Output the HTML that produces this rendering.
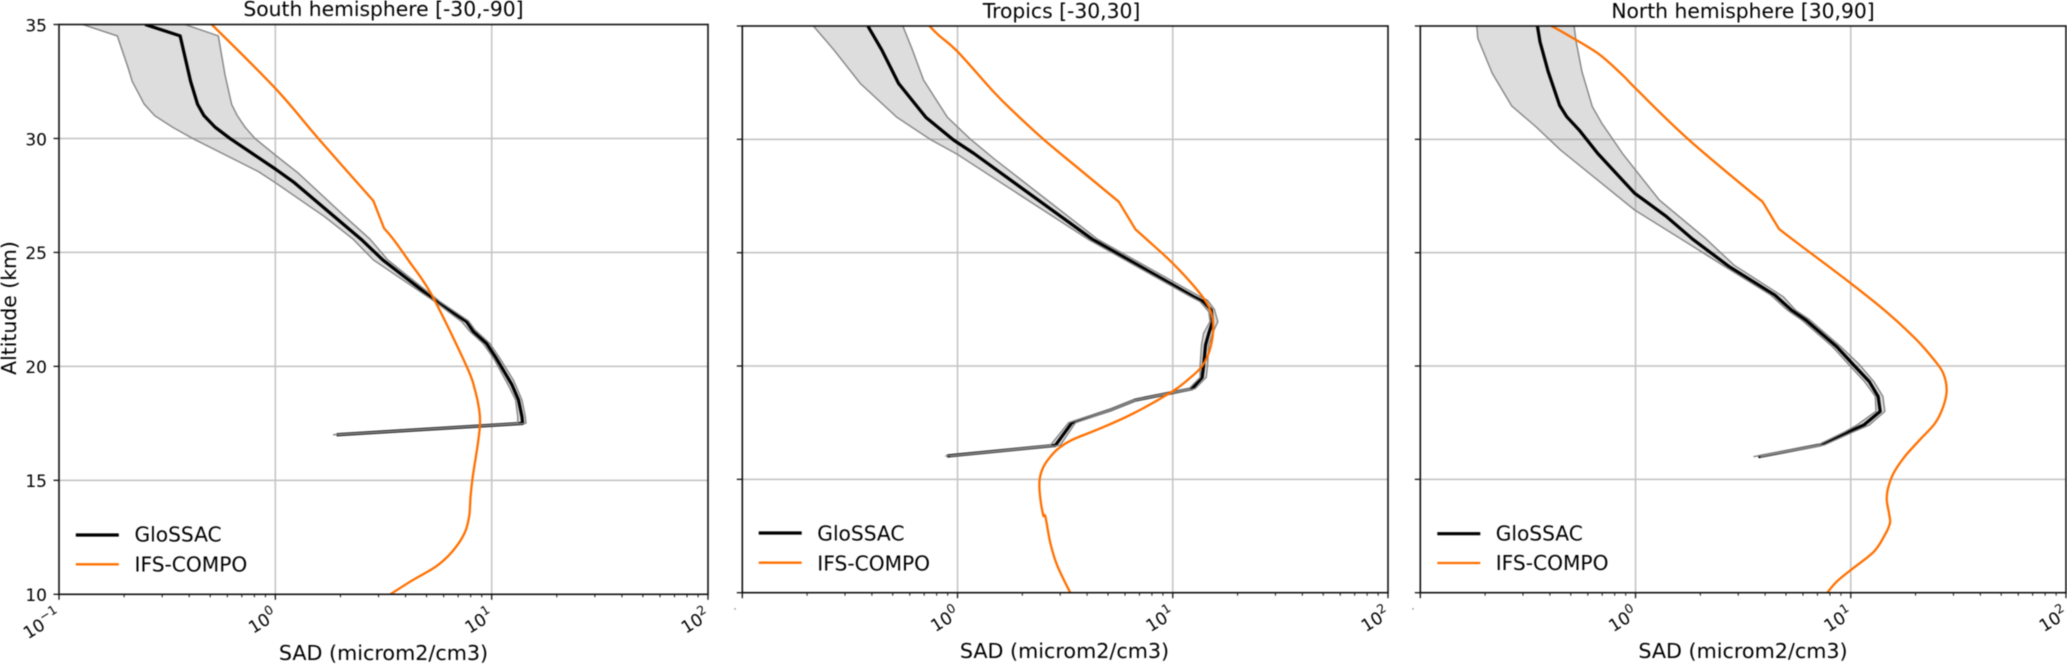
<!DOCTYPE html>
<html lang="en">
<head>
<meta charset="utf-8">
<title>SAD profiles: GloSSAC vs IFS-COMPO</title>
<style>
  html, body { margin: 0; padding: 0; background: #fff; }
  body { width: 2067px; height: 664px; overflow: hidden; }
  #chart { display: block; filter: blur(0.45px); }
  #chart text { font-family: "DejaVu Sans", "Liberation Sans", sans-serif; fill: #000; }
</style>
</head>
<body>
<svg id="chart" xmlns="http://www.w3.org/2000/svg" width="2067" height="664" viewBox="0 0 2067 664"></svg>
<script>
/* ---- shared axis data ---- */
const yTicks = [10, 15, 20, 25, 30, 35];
const xDecades = [-1, 0, 1, 2];
const xMinorFactors = [2, 3, 4, 5, 6, 7, 8, 9];
const seriesNames = ['GloSSAC', 'IFS-COMPO'];
/* altitude range where the model profile has real corners */
const modelCornerRange = [26, 27.3];

/* ---- South hemisphere ---- */
const southMeanAlt = [35, 34.5, 32.5, 31.5, 31, 30.5, 30, 28.66, 28.1, 25.55, 24.67, 22.84, 21.96, 21.53, 21, 20.36, 19.2, 18.53, 17.8, 17.5, 17];
const southMeanSad = [0.25, 0.363, 0.406, 0.437, 0.468, 0.526, 0.617, 1.0, 1.21, 2.51, 3.14, 5.57, 7.66, 8.22, 9.48, 10.5, 12.4, 13.3, 13.8, 13.9, 1.92];
const southLowAlt = [35, 34.5, 33.08, 32.5, 31.5, 31, 30.5, 30, 28.55, 28.06, 26.57, 25.58, 24.67, 22.84, 21.96, 21.53, 21, 20.36, 19.2, 18.53, 17.8, 17.5, 17];
const southLowSad = [0.1286, 0.186, 0.209, 0.218, 0.248, 0.277, 0.334, 0.415, 0.834, 1.0, 1.69, 2.29, 2.84, 5.47, 7.27, 7.94, 9.14, 10.2, 11.9, 12.9, 13.2, 13.2, 1.85];
const southHighAlt = [35, 34.5, 32.8, 31.5, 31, 30.5, 30, 29.27, 28.47, 26.5, 25.58, 24.67, 22.84, 22, 21.6, 21, 20.36, 19.4, 18.53, 17.8, 17.5, 17];
const southHighSad = [0.382, 0.545, 0.585, 0.628, 0.667, 0.724, 0.805, 1.0, 1.28, 2.14, 2.74, 3.31, 5.77, 7.8, 8.37, 9.82, 10.9, 12.6, 13.8, 14.3, 14.4, 1.95];
const southModelAlt = [35, 32.2, 30, 27.26, 26.06, 25.58, 24.67, 23.14, 20, 18.97, 18.09, 17.43, 16.5, 15.17, 14.3, 13.42, 12.68, 11.88, 11.22, 10.63, 10];
const southModelSad = [0.508, 1.0, 1.58, 2.84, 3.18, 3.51, 4.11, 5.28, 7.66, 8.37, 8.76, 8.83, 8.6, 8.18, 7.99, 7.87, 7.49, 6.58, 5.53, 4.33, 3.4];

/* ---- Tropics ---- */
const tropicsMeanAlt = [35, 33.94, 32.47, 30.97, 29.97, 29.38, 25.6, 23.06, 22.84, 22.47, 21.96, 21.44, 20.93, 20, 19.5, 19, 18.5, 18.06, 17.5, 16.5, 16.03];
const tropicsMeanSad = [0.383, 0.445, 0.532, 0.713, 0.958, 1.19, 4.22, 12.5, 13.9, 15.1, 15.3, 14.7, 14.2, 13.9, 13.7, 12.3, 6.71, 5.13, 3.4, 2.85, 0.895];
const tropicsLowAlt = [35, 33.97, 32.47, 30.97, 30, 29.35, 25.6, 23.06, 22.84, 22.4, 21.96, 21.44, 20.93, 20, 19.5, 19, 18.5, 18.06, 17.5, 16.5, 16.03];
const tropicsLowSad = [0.214, 0.265, 0.353, 0.523, 0.746, 0.993, 4.03, 12.1, 13.4, 14.7, 14.9, 13.9, 13.6, 13.4, 13.4, 11.9, 6.59, 5.04, 3.28, 2.7, 0.877];
const tropicsHighAlt = [35, 34, 32.62, 30.97, 30, 29.16, 25.6, 23.13, 22.9, 22.5, 21.96, 21.44, 20.93, 20, 19.5, 19, 18.5, 18.06, 17.5, 16.5, 16.03];
const tropicsHighSad = [0.557, 0.614, 0.695, 0.898, 1.15, 1.47, 4.46, 13.0, 14.5, 15.6, 16.2, 15.3, 14.7, 14.5, 14.3, 12.7, 6.83, 5.23, 3.53, 3.0, 0.925];
const tropicsModelAlt = [35, 34.6, 33.87, 32.1, 31.22, 30, 28.65, 27.25, 26.03, 25.56, 24.53, 23.35, 22.62, 21.88, 20.85, 20, 19.38, 18.87, 17.92, 17.25, 16.74, 16.37, 16, 15.56, 15.03, 14.39, 13.43, 13.35, 12.18, 11.22, 10];
const tropicsModelSad = [0.741, 0.816, 1.0, 1.47, 1.82, 2.51, 3.72, 5.61, 6.71, 7.62, 10, 13.0, 14.7, 15.4, 15.0, 13.7, 11.7, 9.93, 6.59, 4.61, 3.4, 2.95, 2.7, 2.51, 2.41, 2.41, 2.5, 2.56, 2.7, 2.9, 3.34];

/* ---- North hemisphere ---- */
const northMeanAlt = [35, 34.3, 32.98, 31.5, 31, 30.41, 29.38, 27.62, 26.6, 25.6, 24.38, 23.13, 22.47, 22.03, 20.85, 20.05, 19.31, 18.66, 18, 17.4, 17.1, 16.52, 16];
const northMeanSad = [0.35, 0.36, 0.393, 0.444, 0.479, 0.547, 0.667, 0.991, 1.39, 1.84, 2.73, 4.44, 5.3, 6.18, 8.61, 10.3, 12.2, 13.4, 13.7, 11.5, 9.82, 7.21, 3.72];
const northLowAlt = [35, 34.46, 32.91, 31.47, 30.56, 29.53, 26.88, 25.6, 24.38, 23.13, 22.47, 22.03, 20.85, 20.05, 19.31, 18.66, 18, 17.4, 17.1, 16.52, 16];
const northLowSad = [0.183, 0.185, 0.216, 0.266, 0.344, 0.448, 0.991, 1.63, 2.61, 4.25, 5.07, 5.92, 8.23, 9.82, 11.6, 13.0, 13.1, 10.7, 9.4, 7.06, 3.53];
const northHighAlt = [35, 34.3, 32.98, 31.44, 30.71, 30.19, 29.38, 27.32, 25.6, 24.46, 23.06, 22.47, 22.03, 20.85, 20.05, 19.31, 18.66, 18, 17.4, 17.1, 16.52, 16];
const northHighSad = [0.518, 0.53, 0.564, 0.63, 0.697, 0.76, 0.869, 1.29, 2.13, 2.86, 4.85, 5.53, 6.46, 8.99, 11.0, 12.8, 14.1, 14.4, 12.2, 10.3, 7.54, 3.8];
const northModelAlt = [35, 34.68, 33.8, 32.84, 32.25, 30, 27.25, 26.05, 25.56, 23.65, 22.4, 21.22, 20.27, 19.68, 18.94, 18.21, 17.47, 16.74, 16, 15.27, 14.61, 14.09, 13.43, 13.06, 12.55, 11.81, 11, 10.49, 10];
const northModelSad = [0.406, 0.468, 0.667, 0.869, 1.0, 1.76, 3.89, 4.64, 5.41, 10, 14.6, 19.9, 24.4, 26.9, 27.9, 26.9, 24.6, 20.9, 17.8, 15.8, 14.9, 14.7, 15.1, 15.2, 14.4, 12.8, 10, 8.61, 7.78];

/* ---- layout of each panel ---- */
const panels = [
  { key: 'south', title: 'South hemisphere [-30,-90]', left: 59, right: 708, top: 24.5, bottom: 594.3,
    titleX: 383.5, titleY: 16, labelX: 383.5, labelY: 660, lineX: 75.8, textX: 134.5, leg1: 535, leg2: 564.3, base1: 541.7, base2: 571.4, yLabels: true, firstDecadeLabel: true,
    meanAlt: southMeanAlt, meanSad: southMeanSad, lowAlt: southLowAlt, lowSad: southLowSad, highAlt: southHighAlt, highSad: southHighSad, modelAlt: southModelAlt, modelSad: southModelSad },
  { key: 'tropics', title: 'Tropics [-30,30]', left: 742.3, right: 1388, top: 26, bottom: 592.7,
    titleX: 1061.5, titleY: 18, labelX: 1064.5, labelY: 658, lineX: 758.7, textX: 817.3, leg1: 533, leg2: 562.7, base1: 540.7, base2: 570.3, yLabels: false, firstDecadeLabel: false,
    meanAlt: tropicsMeanAlt, meanSad: tropicsMeanSad, lowAlt: tropicsLowAlt, lowSad: tropicsLowSad, highAlt: tropicsHighAlt, highSad: tropicsHighSad, modelAlt: tropicsModelAlt, modelSad: tropicsModelSad },
  { key: 'north', title: 'North hemisphere [30,90]', left: 1420.3, right: 2066, top: 26, bottom: 592.7,
    titleX: 1743, titleY: 18, labelX: 1743, labelY: 658, lineX: 1437.3, textX: 1495.7, leg1: 533.7, leg2: 563, base1: 540.7, base2: 570, yLabels: false, firstDecadeLabel: false,
    meanAlt: northMeanAlt, meanSad: northMeanSad, lowAlt: northLowAlt, lowSad: northLowSad, highAlt: northHighAlt, highSad: northHighSad, modelAlt: northModelAlt, modelSad: northModelSad }
];

const NS = 'http://www.w3.org/2000/svg';
const svg = document.getElementById('chart');

function make(tag, attrs, parent) {
  const node = document.createElementNS(NS, tag);
  for (const k in attrs) node.setAttribute(k, attrs[k]);
  parent.appendChild(node);
  return node;
}
function xScale(p, v) {
  const lo = xDecades[0], hi = xDecades[xDecades.length - 1];
  return p.left + (Math.log10(v) - lo) / (hi - lo) * (p.right - p.left);
}
function yScale(p, alt) {
  const lo = yTicks[0], hi = yTicks[yTicks.length - 1];
  return p.bottom - (alt - lo) / (hi - lo) * (p.bottom - p.top);
}
function linePath(p, alts, sads) {
  return alts.map(function (a, i) {
    return (i ? 'L' : 'M') + xScale(p, sads[i]).toFixed(2) + ' ' + yScale(p, a).toFixed(2);
  }).join(' ');
}
/* Smooth curve through the data, with corners inside modelCornerRange. */
function smoothPath(p, alts, sads) {
  const pts = alts.map(function (a, i) { return [xScale(p, sads[i]), yScale(p, a)]; });
  function tangent(i) {
    if (i === 0 || i === pts.length - 1) return [0, 0];
    if (alts[i] >= modelCornerRange[0] && alts[i] <= modelCornerRange[1]) return [0, 0];
    return [(pts[i + 1][0] - pts[i - 1][0]) / 6, (pts[i + 1][1] - pts[i - 1][1]) / 6];
  }
  let d = 'M' + pts[0][0].toFixed(2) + ' ' + pts[0][1].toFixed(2);
  for (let i = 0; i < pts.length - 1; i++) {
    const t1 = tangent(i), t2 = tangent(i + 1);
    d += ' C' + (pts[i][0] + t1[0]).toFixed(2) + ' ' + (pts[i][1] + t1[1]).toFixed(2) + ' ' +
         (pts[i + 1][0] - t2[0]).toFixed(2) + ' ' + (pts[i + 1][1] - t2[1]).toFixed(2) + ' ' +
         pts[i + 1][0].toFixed(2) + ' ' + pts[i + 1][1].toFixed(2);
  }
  return d;
}
function bandPath(p) {
  const lowPart = linePath(p, p.lowAlt, p.lowSad);
  const up = p.highAlt.map(function (a, i) {
    return 'L' + xScale(p, p.highSad[i]).toFixed(2) + ' ' + yScale(p, a).toFixed(2);
  }).reverse().join(' ');
  return lowPart + ' ' + up + ' Z';
}

panels.forEach(function (p) {
  const panel = make('g', {}, svg);
  
  

  const clip = make('clipPath', { id: 'clip-' + p.key }, panel);
  make('rect', { x: p.left, y: p.top, width: p.right - p.left, height: p.bottom - p.top }, clip);

  /* grid */
  xDecades.slice(1, -1).forEach(function (d) {
    const gx = make('line', { x1: xScale(p, Math.pow(10, d)), x2: xScale(p, Math.pow(10, d)), y1: p.top, y2: p.bottom, stroke: '#c2c2c2', 'stroke-width': 1.5 }, panel);
    
    
  });
  yTicks.slice(1, -1).forEach(function (t) {
    const gy = make('line', { x1: p.left, x2: p.right, y1: yScale(p, t), y2: yScale(p, t), stroke: '#c2c2c2', 'stroke-width': 1.5 }, panel);
    
    
  });

  /* series */
  const plot = make('g', { 'clip-path': 'url(#clip-' + p.key + ')' }, panel);
  
  

  const band = make('path', { d: bandPath(p), fill: '#808080', 'fill-opacity': 0.27, stroke: 'none' }, plot);
  
  

  const mean = make('path', { d: linePath(p, p.meanAlt, p.meanSad), fill: 'none', stroke: '#000', 'stroke-width': 3.2, 'stroke-linejoin': 'round' }, plot);
  
  

  const low = make('path', { d: linePath(p, p.lowAlt, p.lowSad), fill: 'none', stroke: '#858585', 'stroke-width': 1.4, 'stroke-linejoin': 'round' }, plot);
  
  

  const high = make('path', { d: linePath(p, p.highAlt, p.highSad), fill: 'none', stroke: '#858585', 'stroke-width': 1.4, 'stroke-linejoin': 'round' }, plot);
  
  

  const model = make('path', { d: smoothPath(p, p.modelAlt, p.modelSad), fill: 'none', stroke: '#ff7000', 'stroke-width': 2.3, 'stroke-linejoin': 'round' }, plot);
  
  

  /* spines */
  const frame = make('rect', { x: p.left, y: p.top, width: p.right - p.left, height: p.bottom - p.top, fill: 'none', stroke: '#111', 'stroke-width': 1.6 }, panel);
  
  

  /* y ticks */
  yTicks.forEach(function (t) {
    const tk = make('line', { x1: p.left - 5.5, x2: p.left, y1: yScale(p, t), y2: yScale(p, t), stroke: '#111', 'stroke-width': 1.3 }, panel);
    
    
    if (p.yLabels) {
      const lb = make('text', { x: p.left - 12, y: yScale(p, t) + 6.8, 'text-anchor': 'end', 'font-size': 17 }, panel);
      lb.textContent = String(t);
      
      
    }
  });

  /* x ticks */
  xDecades.forEach(function (d, i) {
    const x = xScale(p, Math.pow(10, d));
    const tk = make('line', { x1: x, x2: x, y1: p.bottom, y2: p.bottom + 5.5, stroke: '#111', 'stroke-width': 1.3 }, panel);
    
    
    if (i < xDecades.length - 1) {
      xMinorFactors.forEach(function (f) {
        const mx = xScale(p, f * Math.pow(10, d));
        const mt = make('line', { x1: mx, x2: mx, y1: p.bottom, y2: p.bottom + 3, stroke: '#111', 'stroke-width': 1 }, panel);
        
        
      });
    }
    if (i > 0 || p.firstDecadeLabel) {
      const lb = make('text', { transform: 'translate(' + (x + 3) + ' ' + (p.bottom + 24) + ') rotate(-32)', 'text-anchor': 'end', 'font-size': 17 }, panel);
      
      
      lb.appendChild(document.createTextNode('10'));
      const sup = make('tspan', { 'font-size': 12.5, dy: -7.5 }, lb);
      sup.textContent = String(d).replace('-', '\u2212');
    } else {
      const frag = make('rect', { x: p.left - 8, y: p.bottom + 15.5, width: 1.4, height: 1.4, fill: '#888' }, panel);
      
      
    }
  });

  /* titles */
  const title = make('text', { x: p.titleX, y: p.titleY, 'text-anchor': 'middle', 'font-size': 20.3 }, panel);
  title.textContent = p.title;
  
  

  const xlab = make('text', { x: p.labelX, y: p.labelY, 'text-anchor': 'middle', 'font-size': 20.7 }, panel);
  xlab.textContent = 'SAD (microm2/cm3)';
  
  

  if (p.yLabels) {
    const ylab = make('text', { transform: 'translate(16 308) rotate(-90)', 'text-anchor': 'middle', 'font-size': 20.4 }, panel);
    ylab.textContent = 'Altitude (km)';
    
    
  }

  /* legend */
  const legend = make('g', {}, panel);
  
  

  const key1 = make('line', { x1: p.lineX, x2: p.lineX + 43, y1: p.leg1, y2: p.leg1, stroke: '#000', 'stroke-width': 3.2 }, legend);
  
  

  const text1 = make('text', { x: p.textX, y: p.base1, 'font-size': 20.2 }, legend);
  text1.textContent = seriesNames[0];
  
  

  const key2 = make('line', { x1: p.lineX, x2: p.lineX + 43, y1: p.leg2, y2: p.leg2, stroke: '#ff7000', 'stroke-width': 2.3 }, legend);
  
  

  const text2 = make('text', { x: p.textX, y: p.base2, 'font-size': 20.2 }, legend);
  text2.textContent = seriesNames[1];
  
  
});
</script>
</body>
</html>
